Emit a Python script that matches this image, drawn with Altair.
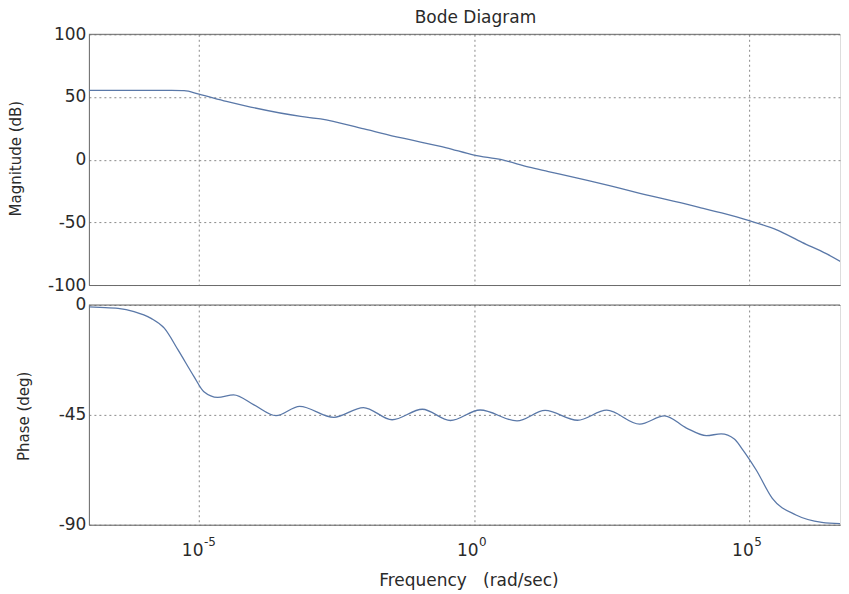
import altair as alt
import pandas as pd

# ---- data (log10 of frequency, value) ----
mag_logf = [-7.0, -6.0, -5.5, -5.27, -5.0, -4.5, -4.06, -3.15, -2.79, -2.0, -1.34,
            -0.5, 0.0, 0.5, 1.0, 1.35, 2.0, 2.46, 3.19, 4.09, 4.5, 5.0, 5.5, 5.96, 6.4, 6.79]
mag_db = [55.3, 55.3, 55.2, 55.0, 52.2, 46.5, 42.0, 34.5, 32.5, 24.5, 17.5,
          9.5, 3.7, 0.0, -6.0, -9.5, -16.0, -20.7, -28.7, -38.0, -42.5, -48.7, -56.0, -66.0, -75.0, -84.6]

phase_logf = [-7.0, -6.8, -6.47, -6.18, -5.87, -5.63, -5.38, -5.09, -4.91, -4.66, -4.37,
              -4.0, -3.6, -3.17, -2.55, -2.01, -1.49, -0.94, -0.43, 0.11, 0.78, 1.29,
              1.88, 2.41, 3.01, 3.46, 3.86, 4.22, 4.49, 4.73, 4.87, 5.13, 5.42, 5.85, 6.32, 6.79]
phase_deg = [-0.8, -1.0, -1.4, -2.7, -5.5, -9.5, -18.4, -29.3, -35.5, -37.8, -36.8,
             -40.9, -45.3, -41.5, -46.0, -42.0, -47.0, -42.7, -47.3, -43.0, -47.5, -43.2,
             -47.2, -43.1, -48.8, -45.4, -50.4, -53.5, -52.8, -54.9, -58.9, -67.7, -79.2, -86.0, -89.0, -89.7]

x_tick_exps = [-5, 0, 5]
mag_ticks = [100, 50, 0, -50, -100]
phase_ticks = [0, -45, -90]

FONT = "DejaVu Sans"
LINE = "#5a78a8"
GRID = "#8a8a8a"
FRAME = "#6a6a6a"
TEXT = "#2a2a2a"

W = 752
H_TOP = 251
H_BOT = 220
XMIN = 1e-7
XMAX = 10 ** 6.65

mag_df = pd.DataFrame({"freq": [10.0 ** v for v in mag_logf], "mag": mag_db})
phase_df = pd.DataFrame({"freq": [10.0 ** v for v in phase_logf], "phase": phase_deg})
exp_df = pd.DataFrame({"freq": [10.0 ** e for e in x_tick_exps],
                       "exp": [str(e) for e in x_tick_exps]})
tick_vals = [10.0 ** e for e in x_tick_exps]
one = pd.DataFrame({"k": [0]})

xscale = alt.Scale(type="log", domain=[XMIN, XMAX], nice=False)

grid_kw = dict(grid=True, gridColor=GRID, gridDash=[2, 3], gridWidth=1, gridOpacity=1,
               domain=True, domainColor=FRAME, domainWidth=1, ticks=False)

# ---- magnitude panel ----
top_line = alt.Chart(mag_df).mark_line(color=LINE, strokeWidth=1.3, interpolate="monotone", clip=True).encode(
    x=alt.X("freq:Q", scale=xscale,
            axis=alt.Axis(values=tick_vals, labels=False, title=None, **grid_kw)),
    y=alt.Y("mag:Q", scale=alt.Scale(domain=[-100, 100], nice=False, zero=False),
            axis=alt.Axis(values=mag_ticks, labelExpr="'' + datum.value", labelFont=FONT,
                          labelFontSize=17, labelColor=TEXT, labelPadding=3,
                          title="Magnitude (dB)", titleFont=FONT, titleFontSize=15,
                          titleFontWeight="normal", titleColor=TEXT, titleX=-73, titleY=124,
                          titleAngle=-90, titleAlign="center", titleBaseline="middle",
                          **grid_kw)),
)
top_border = alt.Chart(one).mark_rule(color=FRAME, strokeWidth=1).encode(y=alt.value(0))

top = alt.layer(top_line, top_border).properties(
    width=W, height=H_TOP,
    title=alt.TitleParams("Bode Diagram", font=FONT, fontSize=17, fontWeight="normal",
                          color=TEXT, anchor="middle", dx=11, offset=-2),
)

# ---- phase panel ----
bot_line = alt.Chart(phase_df).mark_line(color=LINE, strokeWidth=1.3, interpolate="monotone", clip=True).encode(
    x=alt.X("freq:Q", scale=xscale,
            axis=alt.Axis(values=tick_vals, labelExpr="'10'", labelFont=FONT, labelFontSize=17,
                          labelColor=TEXT, labelAlign="right", labelOffset=4, labelPadding=31,
                          labelBaseline="alphabetic", labelFlush=False,
                          title="Frequency\u00a0\u00a0\u00a0(rad/sec)", titleFont=FONT, titleFontSize=17,
                          titleFontWeight="normal", titleColor=TEXT, titleX=380, titleY=56,
                          titleAlign="center", titleBaseline="middle", **grid_kw)),
    y=alt.Y("phase:Q", scale=alt.Scale(domain=[-90, 0], nice=False, zero=False),
            axis=alt.Axis(values=phase_ticks, labelExpr="'' + datum.value", labelFont=FONT,
                          labelFontSize=17, labelColor=TEXT, labelPadding=3,
                          title="Phase (deg)", titleFont=FONT, titleFontSize=15,
                          titleFontWeight="normal", titleColor=TEXT, titleX=-65, titleY=111,
                          titleAngle=-90, titleAlign="center", titleBaseline="middle",
                          **grid_kw)),
)
bot_border = alt.Chart(one).mark_rule(color=FRAME, strokeWidth=1).encode(y=alt.value(0))
exp_text = alt.Chart(exp_df).mark_text(font=FONT, fontSize=12, align="left", baseline="alphabetic",
                                       dx=5, color=TEXT).encode(
    x=alt.X("freq:Q", scale=xscale),
    y=alt.value(H_BOT + 21),
    text="exp:N",
)

bottom = alt.layer(bot_line, bot_border, exp_text).properties(width=W, height=H_BOT)

chart = alt.vconcat(top, bottom, spacing=20, bounds="flush").properties(
    padding={"left": 0, "top": 0, "right": 0, "bottom": 0}
).configure_view(stroke=None).configure(background="white")

chart.save("out.html", embed_options={"renderer": "svg", "actions": False})
